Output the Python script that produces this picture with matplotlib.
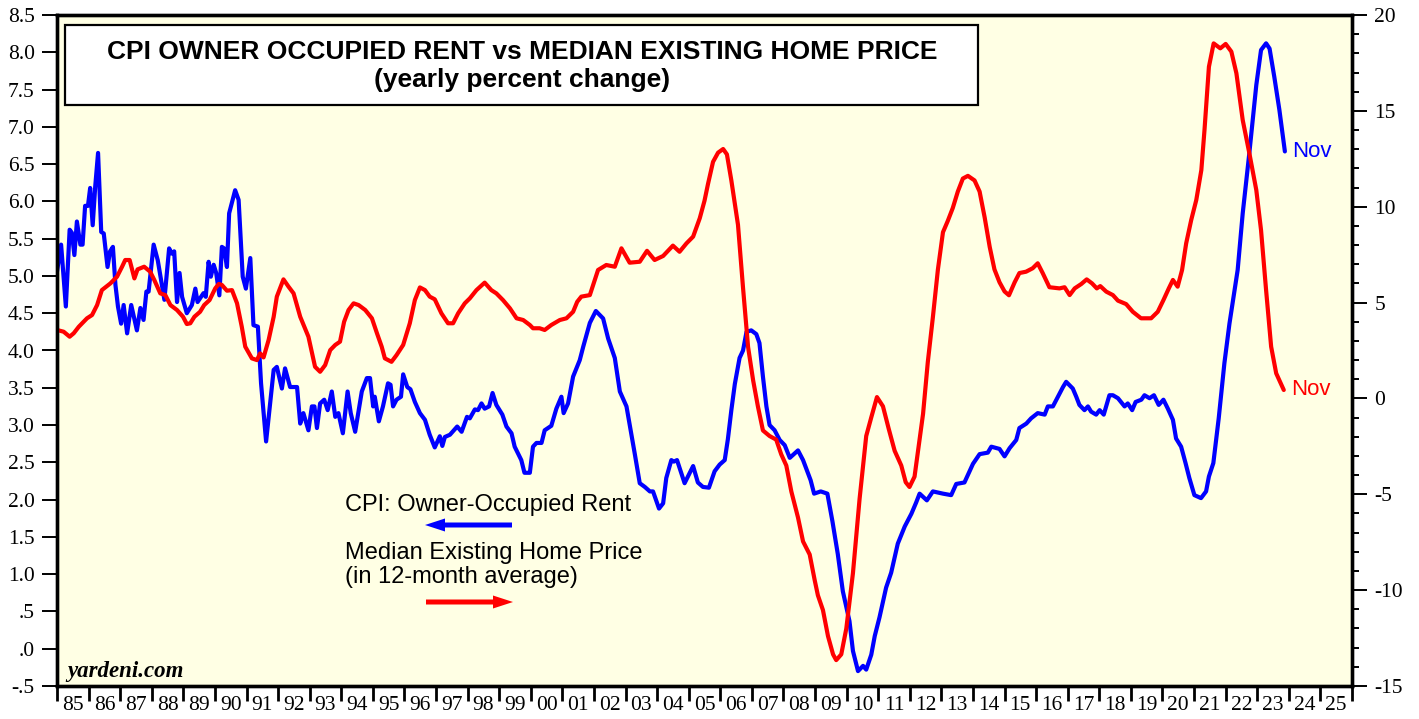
import matplotlib
matplotlib.use("Agg")
import matplotlib.pyplot as plt
from matplotlib.patches import Rectangle, FancyArrow
from matplotlib.ticker import FixedLocator, FuncFormatter, MultipleLocator

plt.rcParams["axes.unicode_minus"] = False

# ---------------- data ----------------
rent_t = [1985.00, 1985.13, 1985.28, 1985.40, 1985.47, 1985.55, 1985.63, 1985.74, 1985.81, 1985.89,
          1985.98, 1986.05, 1986.13, 1986.21, 1986.30, 1986.40, 1986.48, 1986.60, 1986.68, 1986.77,
          1986.85, 1986.93, 1987.03, 1987.11, 1987.22, 1987.35, 1987.53, 1987.64, 1987.74, 1987.83,
          1987.90, 1988.06, 1988.19, 1988.40, 1988.55, 1988.63, 1988.71, 1988.80, 1988.88, 1988.96,
          1989.11, 1989.27, 1989.38, 1989.45, 1989.64, 1989.71, 1989.80, 1989.87, 1989.96, 1990.04,
          1990.14, 1990.22, 1990.29, 1990.38, 1990.45, 1990.64, 1990.75, 1990.88, 1990.98, 1991.12,
          1991.22, 1991.36, 1991.46, 1991.62, 1991.86, 1991.96, 1992.12, 1992.22, 1992.38, 1992.49,
          1992.60, 1992.70, 1992.80, 1992.96, 1993.07, 1993.15, 1993.23, 1993.33, 1993.46, 1993.57,
          1993.70, 1993.81, 1993.91, 1994.05, 1994.20, 1994.30, 1994.44, 1994.65, 1994.81, 1994.91,
          1995.01, 1995.06, 1995.19, 1995.32, 1995.48, 1995.56, 1995.64, 1995.75, 1995.89, 1995.96,
          1996.09, 1996.19, 1996.33, 1996.49, 1996.65, 1996.80, 1996.96, 1997.12, 1997.20, 1997.28,
          1997.44, 1997.67, 1997.81, 1997.98, 1998.07, 1998.23, 1998.33, 1998.44, 1998.54, 1998.68,
          1998.79, 1998.91, 1999.10, 1999.23, 1999.39, 1999.49, 1999.70, 1999.80, 1999.97, 2000.07,
          2000.18, 2000.34, 2000.44, 2000.65, 2000.81, 2000.97, 2001.04, 2001.18, 2001.34, 2001.55,
          2001.66, 2001.87, 2002.06, 2002.29, 2002.45, 2002.66, 2002.82, 2003.03, 2003.29, 2003.45,
          2003.61, 2003.77, 2003.87, 2004.06, 2004.19, 2004.29, 2004.45, 2004.53, 2004.63, 2004.87,
          2005.14, 2005.29, 2005.45, 2005.64, 2005.82, 2005.98, 2006.14, 2006.24, 2006.35, 2006.46,
          2006.61, 2006.72, 2006.83, 2006.98, 2007.14, 2007.24, 2007.35, 2007.46, 2007.56, 2007.72,
          2007.88, 2008.04, 2008.20, 2008.46, 2008.62, 2008.86, 2008.97, 2009.18, 2009.39, 2009.55,
          2009.72, 2009.88, 2010.09, 2010.20, 2010.36, 2010.52, 2010.62, 2010.78, 2010.89, 2011.04,
          2011.25, 2011.41, 2011.62, 2011.84, 2012.05, 2012.20, 2012.31, 2012.54, 2012.73, 2013.05,
          2013.31, 2013.47, 2013.73, 2014.00, 2014.21, 2014.47, 2014.58, 2014.84, 2015.00, 2015.16,
          2015.37, 2015.47, 2015.69, 2015.84, 2016.05, 2016.27, 2016.37, 2016.53, 2016.69, 2016.85,
          2016.95, 2017.16, 2017.27, 2017.37, 2017.53, 2017.64, 2017.74, 2017.90, 2018.01, 2018.14,
          2018.32, 2018.43, 2018.59, 2018.80, 2018.90, 2019.04, 2019.15, 2019.33, 2019.43, 2019.59,
          2019.73, 2019.88, 2020.03, 2020.17, 2020.33, 2020.43, 2020.59, 2020.73, 2020.85, 2021.01,
          2021.22, 2021.38, 2021.47, 2021.61, 2021.78, 2021.96, 2022.12, 2022.38, 2022.54, 2022.75,
          2022.97, 2023.12, 2023.28, 2023.39, 2023.54, 2023.70, 2023.875]
rent_v = [5.06, 5.42, 4.59, 5.62, 5.58, 5.28, 5.73, 5.42, 5.42, 5.94,
          5.94, 6.18, 5.68, 6.20, 6.65, 5.59, 5.57, 5.12, 5.33, 5.39,
          4.88, 4.59, 4.36, 4.61, 4.23, 4.61, 4.27, 4.57, 4.41, 4.79,
          4.79, 5.42, 5.21, 4.68, 5.37, 5.30, 5.33, 4.65, 5.04, 4.72,
          4.50, 4.61, 4.83, 4.65, 4.77, 4.72, 5.19, 4.99, 5.15, 5.04,
          4.74, 5.39, 5.37, 5.12, 5.84, 6.15, 6.02, 4.99, 4.83, 5.24,
          4.34, 4.32, 3.56, 2.78, 3.74, 3.78, 3.49, 3.76, 3.51, 3.51,
          3.51, 3.02, 3.16, 2.93, 3.25, 3.25, 2.96, 3.29, 3.34, 3.20,
          3.45, 3.11, 3.16, 2.89, 3.45, 3.16, 2.91, 3.45, 3.63, 3.63,
          3.25, 3.38, 3.05, 3.25, 3.56, 3.54, 3.25, 3.34, 3.38, 3.68,
          3.51, 3.48, 3.31, 3.16, 3.07, 2.87, 2.70, 2.85, 2.72, 2.84,
          2.87, 2.98, 2.91, 3.11, 3.09, 3.21, 3.20, 3.29, 3.22, 3.25,
          3.43, 3.27, 3.14, 2.98, 2.89, 2.71, 2.53, 2.36, 2.36, 2.71,
          2.76, 2.76, 2.93, 2.99, 3.22, 3.38, 3.16, 3.29, 3.65, 3.87,
          4.05, 4.37, 4.53, 4.43, 4.16, 3.90, 3.45, 3.25, 2.62, 2.22,
          2.17, 2.11, 2.11, 1.88, 1.95, 2.29, 2.53, 2.51, 2.53, 2.22,
          2.45, 2.23, 2.17, 2.16, 2.38, 2.47, 2.53, 2.81, 3.20, 3.55,
          3.90, 4.00, 4.25, 4.27, 4.22, 4.10, 3.65, 3.25, 3.00, 2.93,
          2.80, 2.73, 2.56, 2.66, 2.53, 2.26, 2.08, 2.11, 2.08, 1.71,
          1.27, 0.77, 0.37, -0.03, -0.30, -0.23, -0.28, -0.08, 0.17, 0.42,
          0.82, 1.02, 1.41, 1.64, 1.81, 1.96, 2.08, 1.99, 2.11, 2.08,
          2.06, 2.21, 2.23, 2.48, 2.61, 2.63, 2.71, 2.68, 2.58, 2.69,
          2.80, 2.96, 3.02, 3.09, 3.16, 3.14, 3.25, 3.25, 3.38, 3.51,
          3.58, 3.49, 3.38, 3.27, 3.20, 3.25, 3.18, 3.14, 3.20, 3.14,
          3.40, 3.40, 3.36, 3.25, 3.29, 3.20, 3.31, 3.34, 3.40, 3.36,
          3.40, 3.27, 3.34, 3.22, 3.07, 2.82, 2.71, 2.49, 2.29, 2.06,
          2.02, 2.11, 2.31, 2.49, 3.09, 3.83, 4.36, 5.08, 5.84, 6.65,
          7.56, 8.03, 8.12, 8.05, 7.67, 7.23, 6.67]

price_t = [1985.00, 1985.21, 1985.40, 1985.53, 1985.69, 1985.95, 1986.11, 1986.27, 1986.42, 1986.69,
           1986.90, 1987.06, 1987.16, 1987.30, 1987.45, 1987.55, 1987.76, 1987.95, 1988.08, 1988.27,
           1988.43, 1988.59, 1988.80, 1988.99, 1989.11, 1989.22, 1989.35, 1989.53, 1989.66, 1989.83,
           1990.01, 1990.12, 1990.22, 1990.38, 1990.54, 1990.70, 1990.85, 1990.96, 1991.17, 1991.33,
           1991.43, 1991.54, 1991.70, 1991.86, 1991.96, 1992.17, 1992.33, 1992.49, 1992.70, 1992.96,
           1993.17, 1993.33, 1993.49, 1993.65, 1993.81, 1993.96, 1994.09, 1994.23, 1994.39, 1994.55,
           1994.76, 1994.97, 1995.13, 1995.28, 1995.38, 1995.59, 1995.75, 1995.96, 1996.17, 1996.33,
           1996.49, 1996.65, 1996.80, 1996.96, 1997.17, 1997.38, 1997.54, 1997.70, 1997.91, 1998.07,
           1998.28, 1998.54, 1998.75, 1998.91, 1999.12, 1999.34, 1999.55, 1999.76, 1999.97, 2000.07,
           2000.28, 2000.44, 2000.65, 2000.92, 2001.13, 2001.34, 2001.47, 2001.60, 2001.87, 2002.13,
           2002.39, 2002.66, 2002.87, 2003.13, 2003.45, 2003.68, 2003.92, 2004.19, 2004.50, 2004.71,
           2004.93, 2005.14, 2005.35, 2005.50, 2005.61, 2005.77, 2005.93, 2006.09, 2006.21, 2006.35,
           2006.56, 2006.72, 2006.88, 2007.04, 2007.19, 2007.35, 2007.56, 2007.77, 2007.93, 2008.09,
           2008.25, 2008.46, 2008.62, 2008.83, 2008.99, 2009.09, 2009.25, 2009.41, 2009.57, 2009.67,
           2009.83, 2009.99, 2010.20, 2010.41, 2010.62, 2010.78, 2010.96, 2011.15, 2011.33, 2011.52,
           2011.73, 2011.87, 2011.99, 2012.15, 2012.31, 2012.42, 2012.57, 2012.73, 2012.89, 2013.05,
           2013.20, 2013.36, 2013.52, 2013.68, 2013.84, 2014.05, 2014.21, 2014.37, 2014.53, 2014.68,
           2014.84, 2015.00, 2015.14, 2015.32, 2015.47, 2015.68, 2015.89, 2016.05, 2016.21, 2016.42,
           2016.74, 2016.90, 2017.06, 2017.22, 2017.43, 2017.60, 2017.77, 2017.92, 2018.03, 2018.22,
           2018.43, 2018.59, 2018.85, 2019.06, 2019.32, 2019.64, 2019.85, 2020.03, 2020.20, 2020.33,
           2020.48, 2020.62, 2020.75, 2020.91, 2021.07, 2021.23, 2021.33, 2021.47, 2021.62, 2021.83,
           2022.00, 2022.18, 2022.34, 2022.54, 2022.75, 2022.97, 2023.12, 2023.28, 2023.44, 2023.60,
           2023.84]
price_v = [3.57, 3.48, 3.22, 3.40, 3.74, 4.18, 4.35, 4.87, 5.65, 6.00,
           6.35, 6.87, 7.22, 7.22, 6.26, 6.73, 6.87, 6.61, 6.18, 5.48,
           5.39, 4.87, 4.61, 4.26, 3.88, 3.92, 4.26, 4.52, 4.87, 5.13,
           5.74, 5.97, 5.92, 5.62, 5.65, 4.96, 3.74, 2.70, 2.09, 2.00,
           2.35, 2.14, 3.05, 4.26, 5.31, 6.21, 5.83, 5.48, 4.26, 3.22,
           1.65, 1.39, 1.74, 2.52, 2.79, 2.96, 4.00, 4.61, 4.96, 4.87,
           4.61, 4.18, 3.40, 2.70, 2.09, 1.91, 2.26, 2.79, 3.92, 5.13,
           5.79, 5.65, 5.31, 5.17, 4.44, 3.92, 3.92, 4.44, 4.96, 5.22,
           5.65, 6.04, 5.65, 5.48, 5.13, 4.70, 4.18, 4.09, 3.83, 3.66,
           3.66, 3.57, 3.83, 4.09, 4.18, 4.52, 5.04, 5.31, 5.39, 6.70,
           6.96, 6.87, 7.83, 7.08, 7.13, 7.70, 7.22, 7.43, 7.97, 7.65,
           8.09, 8.44, 9.40, 10.31, 11.18, 12.34, 12.82, 13.01, 12.73, 11.37,
           9.06, 5.77, 2.68, 0.94, -0.41, -1.67, -1.96, -2.15, -2.92, -3.50,
           -4.86, -6.21, -7.46, -8.14, -9.49, -10.27, -11.04, -12.40, -13.35, -13.65,
           -13.35, -12.00, -9.11, -5.24, -1.96, -0.99, 0.07, -0.41, -1.57, -2.73,
           -3.50, -4.37, -4.62, -4.08, -2.15, -0.80, 1.90, 4.23, 6.73, 8.67,
           9.25, 9.93, 10.79, 11.47, 11.61, 11.37, 10.79, 9.44, 7.90, 6.73,
           6.06, 5.58, 5.38, 6.06, 6.54, 6.61, 6.79, 7.05, 6.53, 5.80,
           5.74, 5.80, 5.39, 5.74, 5.97, 6.21, 6.00, 5.74, 5.86, 5.57,
           5.39, 5.10, 4.92, 4.52, 4.18, 4.18, 4.52, 5.13, 5.74, 6.18,
           5.83, 6.70, 8.09, 9.31, 10.35, 11.91, 14.00, 17.30, 18.52, 18.26,
           18.49, 18.09, 16.96, 14.52, 12.79, 10.87, 8.78, 5.65, 2.70, 1.31,
           0.44]

year_labels = ["85", "86", "87", "88", "89", "90", "91", "92", "93", "94", "95", "96", "97", "98",
               "99", "00", "01", "02", "03", "04", "05", "06", "07", "08", "09", "10", "11", "12",
               "13", "14", "15", "16", "17", "18", "19", "20", "21", "22", "23", "24", "25"]
first_year = 1985

title_lines = ["CPI OWNER OCCUPIED RENT vs MEDIAN EXISTING HOME PRICE", "(yearly percent change)"]
rent_label = "CPI: Owner-Occupied Rent"
price_label = "Median Existing Home Price\n(in 12-month average)"
last_month = "Nov"

# ---------------- figure ----------------
W, H = 1419, 719
fig = plt.figure(figsize=(W / 100, H / 100), dpi=100)
fig.patch.set_facecolor("white")

def fx(x):
    return x / W

def fy(y):
    return 1 - y / H

L, R, T, B = 57, 1352, 15, 686
ax = fig.add_axes([fx(L), fy(B), fx(R) - fx(L), fy(T) - fy(B)])
ax.set_facecolor("#FFFFE4")
ax2 = ax.twinx()

blue = "#0000FF"
red = "#FF0000"
ax.plot(rent_t, rent_v, color=blue, lw=3.0, solid_joinstyle="round", solid_capstyle="round")
ax2.plot(price_t, price_v, color=red, lw=3.0, solid_joinstyle="round", solid_capstyle="round")

ax.set_xlim(1985, 2026)
ax.set_ylim(-0.5, 8.5)
ax2.set_ylim(-15, 20)

serif = "Liberation Serif"
sans = "Liberation Sans"

# left axis ticks
ax.yaxis.set_major_locator(MultipleLocator(0.5))

def left_fmt(v, pos):
    s = f"{v:.1f}"
    if abs(v) < 1:
        s = s.replace("0.", ".")
    return s

ax.yaxis.set_major_formatter(FuncFormatter(left_fmt))
ax.tick_params(axis="y", which="major", direction="out", length=11, width=1.4, pad=5,
               labelsize=15.5, colors="black")

# right axis ticks
ax2.yaxis.set_major_locator(MultipleLocator(5))
ax2.yaxis.set_minor_locator(MultipleLocator(1))
ax2.tick_params(axis="y", which="major", direction="out", length=11, width=1.4, pad=5, labelsize=15.5)
ax2.tick_params(axis="y", which="minor", direction="out", length=5, width=1.4)

# bottom axis ticks: marks at year boundaries, labels centered in each year
years = [first_year + i for i in range(len(year_labels) + 1)]
ax.xaxis.set_major_locator(FixedLocator(years))
ax.xaxis.set_major_formatter(FuncFormatter(lambda v, p: ""))
ax.xaxis.set_minor_locator(FixedLocator([first_year + i + 0.5 for i in range(len(year_labels))]))
ax.xaxis.set_minor_formatter(FuncFormatter(lambda v, p: year_labels[int(v - first_year)]
                                           if 0 <= int(v - first_year) < len(year_labels) else ""))
ax.tick_params(axis="x", which="major", direction="out", length=11, width=2.0)
ax.tick_params(axis="x", which="minor", length=0, pad=7, labelsize=15.5)

for a in (ax, ax2):
    for lab in a.get_yticklabels() + a.get_xticklabels(which="both"):
        lab.set_fontfamily(serif)
for lab in ax.get_xticklabels(which="minor"):
    lab.set_fontfamily(serif)

for a in (ax, ax2):
    for s in a.spines.values():
        s.set_linewidth(2.4)
        s.set_color("black")

# title box
fig.add_artist(Rectangle((fx(65), fy(105)), fx(978) - fx(65), fy(25) - fy(105),
                         transform=fig.transFigure, facecolor="white", edgecolor="black",
                         lw=1.6, zorder=10))
fig.text(fx(522), fy(52), title_lines[0], ha="center", va="center", fontsize=19,
         fontweight="bold", fontfamily=sans, zorder=11)
fig.text(fx(522), fy(80), title_lines[1], ha="center", va="center", fontsize=19,
         fontweight="bold", fontfamily=sans, zorder=11)

# legend texts and arrows
fig.text(fx(345), fy(505), rent_label, ha="left", va="center", fontsize=17, fontfamily=sans, zorder=11)
fig.text(fx(345), fy(565), price_label, ha="left", va="center", fontsize=17, fontfamily=sans,
         linespacing=1.17, zorder=11)
fig.add_artist(FancyArrow(fx(512), fy(525), fx(425) - fx(512), 0, width=5 / H,
                          head_width=13 / H, head_length=20 / W, length_includes_head=True,
                          transform=fig.transFigure, color=blue, lw=0, zorder=11))
fig.add_artist(FancyArrow(fx(426), fy(602), fx(513) - fx(426), 0, width=5 / H,
                          head_width=13 / H, head_length=20 / W, length_includes_head=True,
                          transform=fig.transFigure, color=red, lw=0, zorder=11))

# end labels
ax.annotate(last_month, xy=(rent_t[-1], rent_v[-1]), xytext=(5, 0), textcoords="offset points",
            ha="left", va="center", color=blue, fontsize=16, fontfamily=sans)
ax2.annotate(last_month, xy=(price_t[-1], price_v[-1]), xytext=(5, 0), textcoords="offset points",
             ha="left", va="center", color=red, fontsize=16, fontfamily=sans)

# source
fig.text(fx(67), fy(672), "yardeni.com", ha="left", va="center", fontsize=16.5,
         fontweight="bold", fontstyle="italic", fontfamily=serif, zorder=11)

fig.savefig("out.png", dpi=100)
